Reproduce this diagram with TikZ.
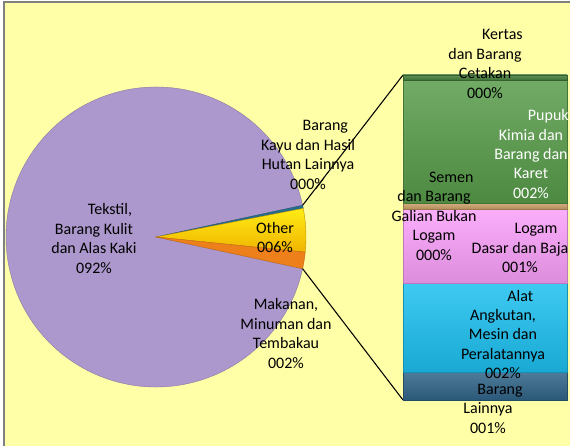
\documentclass[tikz,border=0pt]{standalone}
\usepackage{fontspec}
\setmainfont{Carlito}
\usepackage{tikz}
\definecolor{chartbg}{RGB}{255,255,168}
\definecolor{tekstilC}{RGB}{172,152,204}
\definecolor{kayuC}{RGB}{38,108,140}
\definecolor{otherC}{RGB}{255,236,20}
\definecolor{otherD}{RGB}{240,180,0}
\definecolor{makananC}{RGB}{238,128,28}
\definecolor{kertasC}{RGB}{70,128,60}
\definecolor{pupukC}{RGB}{88,156,74}
\definecolor{semenC}{RGB}{205,160,105}
\definecolor{logamC}{RGB}{250,160,250}
\definecolor{alatC}{RGB}{28,192,240}
\definecolor{lainC}{RGB}{48,100,136}
% first line of a label sits a little to the right
\newcommand{\shiftln}[2][13pt]{\rlap{\hspace*{#1}#2}\phantom{#2}}
\tikzset{wedge/.style={draw=#1!80!black, line width=0.3pt, fill=#1}}
\tikzset{stack/.style={draw=#1!75!black, line width=0.4pt, top color=#1!85!white, middle color=#1, bottom color=#1!88!black}}
\tikzset{lbl/.style={align=center, inner sep=0pt}}
\tikzset{link/.style={draw=black, line width=0.8pt}}

\begin{document}
\begin{tikzpicture}[x=0.75pt, y=0.75pt, font=\fontsize{12}{14.6}\selectfont]
	\useasboundingbox (0,0) rectangle (570,446);
	\fill[chartbg] (4,0) rectangle (570,444);
	\draw[gray, line width=1.1pt] (4,0) -- (4,444) -- (570,444);
	% pie
	\coordinate (c) at (156,209);
	\draw[wedge=tekstilC] (c) -- +(12.2:150) arc[start angle=12.2, end angle=347.8, radius=150] -- cycle;
	\draw[wedge=kayuC] (c) -- +(11:150) arc[start angle=11, end angle=12.2, radius=150] -- cycle;
	\draw[draw=otherD!80!black, line width=0.3pt, top color=otherC, bottom color=otherD] (c) -- +(-5.8:150) arc[start angle=-5.8, end angle=11, radius=150] -- cycle;
	\draw[wedge=makananC] (c) -- +(-12.2:150) arc[start angle=-12.2, end angle=-5.8, radius=150] -- cycle;
	\path (c) +(12.2:150) coordinate (kayuTip);
	\path (c) +(-12.2:150) coordinate (makTip);
	% stacked bar
	\coordinate (boxTL) at (403,371);
	\coordinate (boxBL) at (403,46);
	\draw[link] (kayuTip) -- (boxTL);
	\draw[link] (makTip) -- (boxBL);
	\path[stack=lainC] (403,46) rectangle (567,74);
	\path[stack=alatC] (403,74) rectangle (567,163);
	\path[stack=logamC] (403,163) rectangle (567,237);
	\path[stack=semenC] (403,237) rectangle (567,243);
	\path[stack=pupukC] (403,243) rectangle (567,366);
	\path[stack=kertasC] (403,366) rectangle (567,371);
	% labels
	\node[lbl] (kertasLbl) at (485,382) {\shiftln{Kertas}\\dan Barang\\Cetakan\\000\%};
	\node[lbl] (kayuLbl) at (308,291) {\shiftln{Barang}\\Kayu dan Hasil\\Hutan Lainnya\\000\%};
	\node[lbl] (tekstilLbl) at (94,207.5) {\shiftln[12pt]{Tekstil,}\\Barang Kulit\\dan Alas Kaki\\092\%};
	\node[lbl] (otherLbl) at (275,208.5) {Other\\006\%};
	\node[lbl] (makananLbl) at (286,112.5) {Makanan,\\Minuman dan\\Tembakau\\002\%};
	\node[lbl] (semenLbl) at (434,230) {\shiftln{Semen}\\dan Barang\\Galian Bukan\\Logam\\000\%};
	\node[lbl, text=white] (pupukLbl) at (531,292) {\shiftln{Pupuk}\\Kimia dan\\Barang dan\\Karet\\002\%};
	\node[lbl] (logamLbl) at (520,198) {\shiftln[12pt]{Logam}\\Dasar dan Baja\\001\%};
	\node[lbl] (alatLbl) at (503,111.5) {\shiftln{Alat}\\Angkutan,\\Mesin dan\\Peralatannya\\002\%};
	\node[lbl] (lainLbl) at (488,37.5) {\shiftln[9pt]{Barang}\\Lainnya\\001\%};
\end{tikzpicture}
\end{document}
